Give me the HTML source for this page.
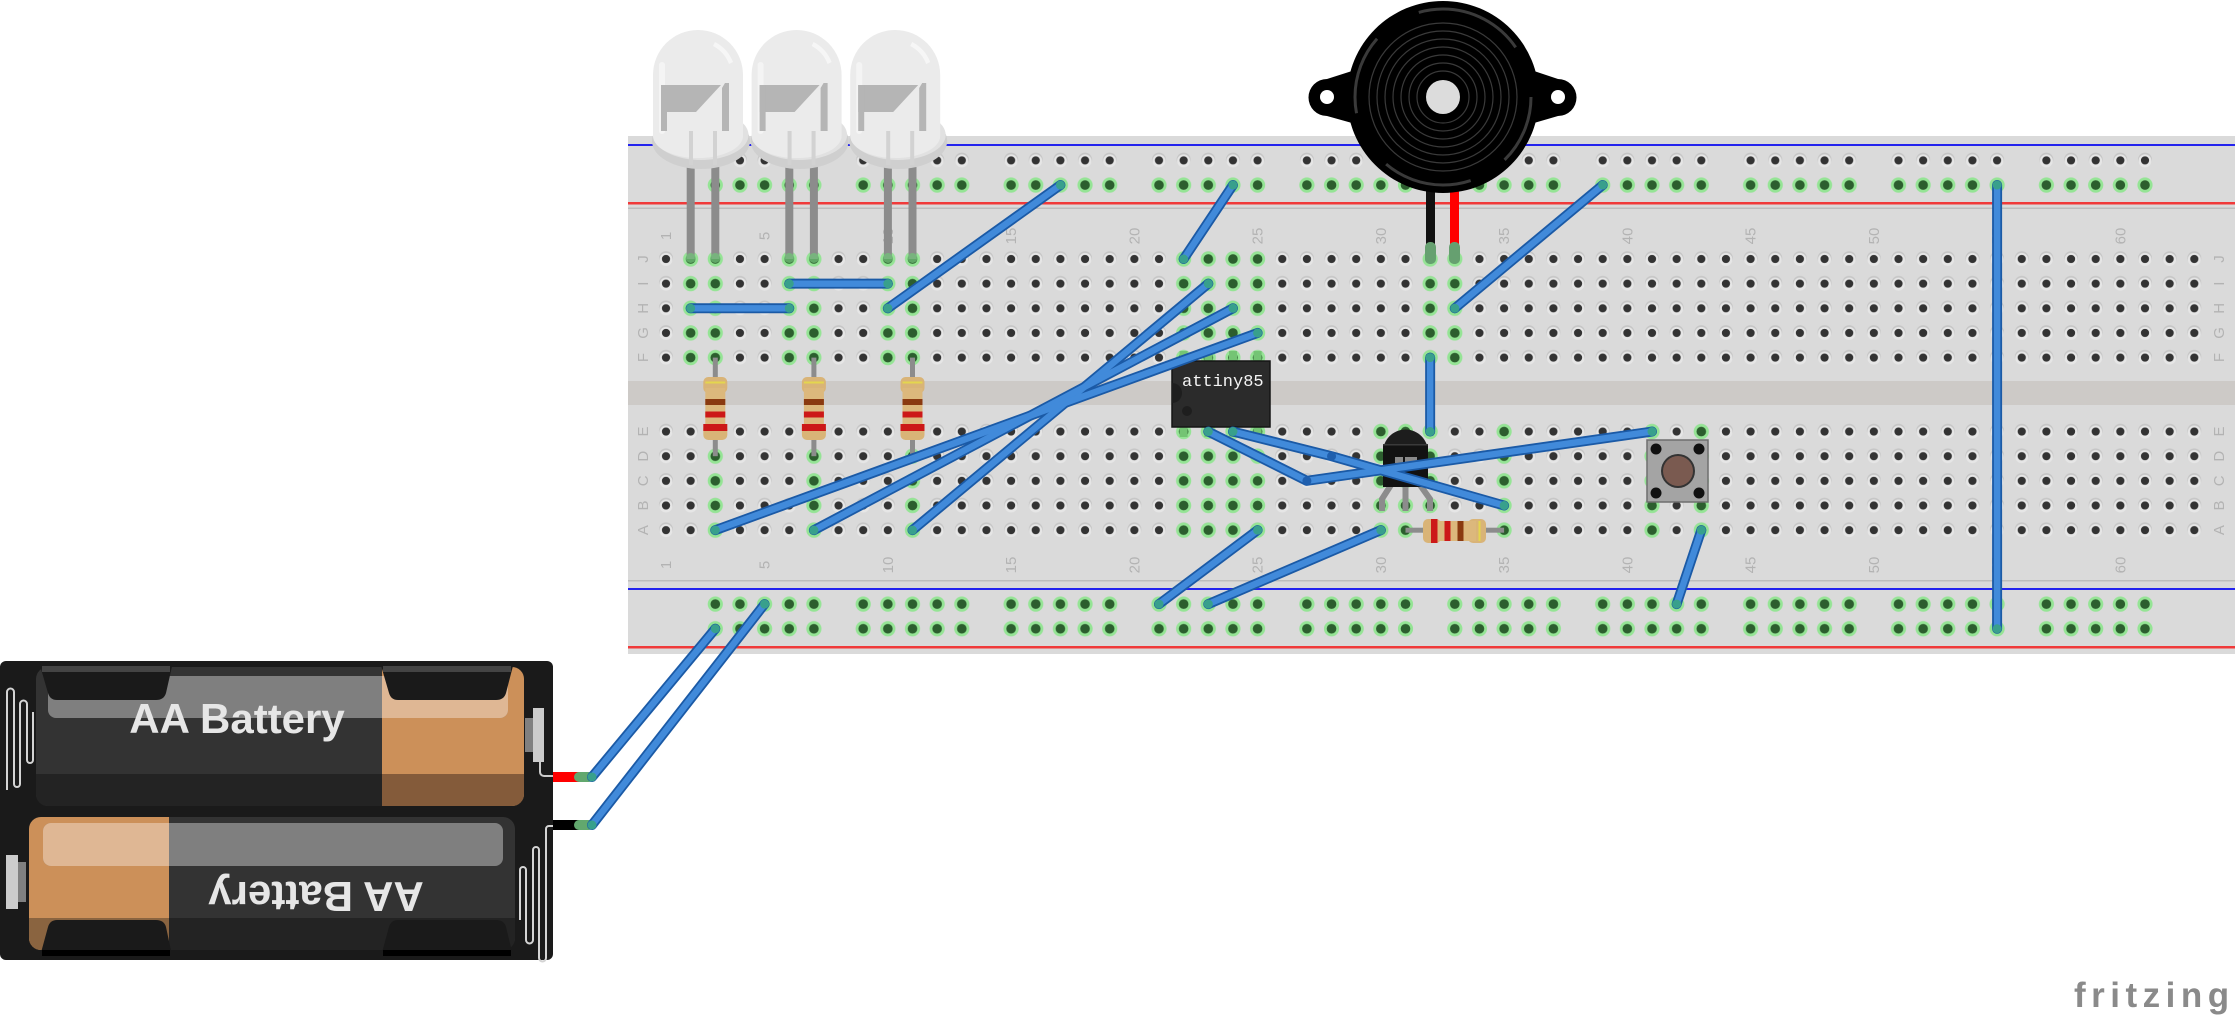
<!DOCTYPE html>
<html><head><meta charset="utf-8"><style>
html,body{margin:0;padding:0;background:#fff;}
body{width:2235px;height:1024px;overflow:hidden;}
svg{display:block;}
.lbl{font-family:"Liberation Sans",sans-serif;font-size:15px;fill:#b3b3b3;}
.wo{stroke:#1b5aa6;stroke-width:10;fill:none;stroke-linecap:round;stroke-linejoin:round;}
.wi{stroke:#418ada;stroke-width:6.4;fill:none;stroke-linecap:round;stroke-linejoin:round;}
.we{fill:#38a08c;}
.lead{fill:#8c8c8c;}
</style></head><body>
<svg width="2235" height="1024" viewBox="0 0 2235 1024" xmlns="http://www.w3.org/2000/svg">
<defs>
<pattern id="ph" x="653.675" y="246.675" width="24.65" height="24.65" patternUnits="userSpaceOnUse">
<circle cx="12.325" cy="11.5" r="7" fill="#c6c6c6"/>
<circle cx="12.325" cy="12.8" r="6.5" fill="#e6e6e6"/>
<circle cx="12.325" cy="12.325" r="4.1" fill="#333"/>
</pattern>
<pattern id="pg" x="653.675" y="246.675" width="24.65" height="24.65" patternUnits="userSpaceOnUse">
<circle cx="12.325" cy="12.325" r="7.6" fill="#95e495"/>
<circle cx="12.325" cy="12.325" r="4.8" fill="#2c5e2e"/>
</pattern>
<pattern id="prd" x="702.975" y="246.675" width="147.9" height="24.65" patternUnits="userSpaceOnUse">
<g fill="#c6c6c6"><circle cx="12.325" cy="11.5" r="7"/><circle cx="36.975" cy="11.5" r="7"/><circle cx="61.625" cy="11.5" r="7"/><circle cx="86.275" cy="11.5" r="7"/><circle cx="110.925" cy="11.5" r="7"/></g>
<g fill="#e6e6e6"><circle cx="12.325" cy="12.8" r="6.5"/><circle cx="36.975" cy="12.8" r="6.5"/><circle cx="61.625" cy="12.8" r="6.5"/><circle cx="86.275" cy="12.8" r="6.5"/><circle cx="110.925" cy="12.8" r="6.5"/></g>
<g fill="#333"><circle cx="12.325" cy="12.325" r="4.1"/><circle cx="36.975" cy="12.325" r="4.1"/><circle cx="61.625" cy="12.325" r="4.1"/><circle cx="86.275" cy="12.325" r="4.1"/><circle cx="110.925" cy="12.325" r="4.1"/></g>
</pattern>
<pattern id="prg" x="702.975" y="246.675" width="147.9" height="24.65" patternUnits="userSpaceOnUse">
<g fill="#95e495"><circle cx="12.325" cy="12.325" r="7.6"/><circle cx="36.975" cy="12.325" r="7.6"/><circle cx="61.625" cy="12.325" r="7.6"/><circle cx="86.275" cy="12.325" r="7.6"/><circle cx="110.925" cy="12.325" r="7.6"/></g>
<g fill="#2c5e2e"><circle cx="12.325" cy="12.325" r="4.8"/><circle cx="36.975" cy="12.325" r="4.8"/><circle cx="61.625" cy="12.325" r="4.8"/><circle cx="86.275" cy="12.325" r="4.8"/><circle cx="110.925" cy="12.325" r="4.8"/></g>
</pattern>
<clipPath id="cb1"><rect x="36" y="667" width="488" height="139" rx="12"/></clipPath>
<clipPath id="cb2"><rect x="29" y="817" width="486" height="133" rx="12"/></clipPath>
</defs>

<!-- ===== Breadboard ===== -->
<rect x="628" y="136" width="1607" height="518" fill="#dadada"/>
<rect x="628" y="381" width="1607" height="24" fill="#cdcac7"/>
<rect x="628" y="144" width="1607" height="2" fill="#2323ee"/>
<rect x="628" y="202" width="1607" height="2.5" fill="#f03a3a"/>
<rect x="628" y="207.5" width="1607" height="1.5" fill="#bdbdbd"/>
<rect x="628" y="580" width="1607" height="1.5" fill="#bdbdbd"/>
<rect x="628" y="588" width="1607" height="2" fill="#2323ee"/>
<rect x="628" y="646" width="1607" height="2.5" fill="#f03a3a"/>

<!-- holes main grid -->
<rect x="653.675" y="246.675" width="1552.95" height="123.25" fill="url(#ph)"/>
<rect x="653.675" y="419.225" width="1552.95" height="123.25" fill="url(#ph)"/>
<!-- rails -->
<rect x="702.975" y="148.075" width="1479" height="24.65" fill="url(#prd)"/>
<rect x="702.975" y="172.725" width="1479" height="24.65" fill="url(#prg)"/>
<rect x="702.975" y="591.775" width="1479" height="49.3" fill="url(#prg)"/>
<!-- green columns top -->
<rect x="678.325" y="246.675" width="49.3" height="123.25" fill="url(#pg)"/>
<rect x="776.925" y="246.675" width="49.3" height="123.25" fill="url(#pg)"/>
<rect x="875.525" y="246.675" width="49.3" height="123.25" fill="url(#pg)"/>
<rect x="1171.325" y="246.675" width="98.6" height="123.25" fill="url(#pg)"/>
<rect x="1417.825" y="246.675" width="49.3" height="123.25" fill="url(#pg)"/>
<!-- green columns bottom -->
<rect x="702.975" y="419.225" width="24.65" height="123.25" fill="url(#pg)"/>
<rect x="801.575" y="419.225" width="24.65" height="123.25" fill="url(#pg)"/>
<rect x="900.175" y="419.225" width="24.65" height="123.25" fill="url(#pg)"/>
<rect x="1171.325" y="419.225" width="98.6" height="123.25" fill="url(#pg)"/>
<rect x="1368.525" y="419.225" width="73.95" height="123.25" fill="url(#pg)"/>
<rect x="1491.775" y="419.225" width="24.65" height="123.25" fill="url(#pg)"/>
<rect x="1639.675" y="419.225" width="24.65" height="123.25" fill="url(#pg)"/>
<rect x="1688.975" y="419.225" width="24.65" height="123.25" fill="url(#pg)"/>

<!-- column labels -->
<g class="lbl" text-anchor="middle">
<text transform="translate(666,236) rotate(-90)" dy="5">1</text>
<text transform="translate(764.6,236) rotate(-90)" dy="5">5</text>
<text transform="translate(887.85,236) rotate(-90)" dy="5">10</text>
<text transform="translate(1011.1,236) rotate(-90)" dy="5">15</text>
<text transform="translate(1134.35,236) rotate(-90)" dy="5">20</text>
<text transform="translate(1257.6,236) rotate(-90)" dy="5">25</text>
<text transform="translate(1380.85,236) rotate(-90)" dy="5">30</text>
<text transform="translate(1504.1,236) rotate(-90)" dy="5">35</text>
<text transform="translate(1627.35,236) rotate(-90)" dy="5">40</text>
<text transform="translate(1750.6,236) rotate(-90)" dy="5">45</text>
<text transform="translate(1873.85,236) rotate(-90)" dy="5">50</text>
<text transform="translate(1997.1,236) rotate(-90)" dy="5">55</text>
<text transform="translate(2120.35,236) rotate(-90)" dy="5">60</text>
<text transform="translate(666,565) rotate(-90)" dy="5">1</text>
<text transform="translate(764.6,565) rotate(-90)" dy="5">5</text>
<text transform="translate(887.85,565) rotate(-90)" dy="5">10</text>
<text transform="translate(1011.1,565) rotate(-90)" dy="5">15</text>
<text transform="translate(1134.35,565) rotate(-90)" dy="5">20</text>
<text transform="translate(1257.6,565) rotate(-90)" dy="5">25</text>
<text transform="translate(1380.85,565) rotate(-90)" dy="5">30</text>
<text transform="translate(1504.1,565) rotate(-90)" dy="5">35</text>
<text transform="translate(1627.35,565) rotate(-90)" dy="5">40</text>
<text transform="translate(1750.6,565) rotate(-90)" dy="5">45</text>
<text transform="translate(1873.85,565) rotate(-90)" dy="5">50</text>
<text transform="translate(1997.1,565) rotate(-90)" dy="5">55</text>
<text transform="translate(2120.35,565) rotate(-90)" dy="5">60</text>
<text transform="translate(643,259) rotate(-90)" dy="5">J</text>
<text transform="translate(643,283.65) rotate(-90)" dy="5">I</text>
<text transform="translate(643,308.3) rotate(-90)" dy="5">H</text>
<text transform="translate(643,332.95) rotate(-90)" dy="5">G</text>
<text transform="translate(643,357.6) rotate(-90)" dy="5">F</text>
<text transform="translate(643,431.55) rotate(-90)" dy="5">E</text>
<text transform="translate(643,456.2) rotate(-90)" dy="5">D</text>
<text transform="translate(643,480.85) rotate(-90)" dy="5">C</text>
<text transform="translate(643,505.5) rotate(-90)" dy="5">B</text>
<text transform="translate(643,530.15) rotate(-90)" dy="5">A</text>
<text transform="translate(2219,259) rotate(-90)" dy="5">J</text>
<text transform="translate(2219,283.65) rotate(-90)" dy="5">I</text>
<text transform="translate(2219,308.3) rotate(-90)" dy="5">H</text>
<text transform="translate(2219,332.95) rotate(-90)" dy="5">G</text>
<text transform="translate(2219,357.6) rotate(-90)" dy="5">F</text>
<text transform="translate(2219,431.55) rotate(-90)" dy="5">E</text>
<text transform="translate(2219,456.2) rotate(-90)" dy="5">D</text>
<text transform="translate(2219,480.85) rotate(-90)" dy="5">C</text>
<text transform="translate(2219,505.5) rotate(-90)" dy="5">B</text>
<text transform="translate(2219,530.15) rotate(-90)" dy="5">A</text>
</g>

<!-- ===== Vertical resistors ===== -->
<g>
<rect x="712.8" y="357.6" width="5" height="98.6" class="lead"/>
<rect x="811.4" y="357.6" width="5" height="98.6" class="lead"/>
<rect x="910" y="357.6" width="5" height="98.6" class="lead"/>
</g>
<g transform="translate(715.3,0)">
<rect x="-12" y="377" width="24" height="16" rx="5" fill="#d9b477"/>
<rect x="-12" y="424" width="24" height="16" rx="5" fill="#d9b477"/>
<rect x="-10" y="388" width="20" height="40" fill="#dcb87c"/>
<rect x="-10" y="381.5" width="20" height="2" fill="#e4d64e"/>
<rect x="-10" y="399" width="20" height="6" fill="#8a3a10"/>
<rect x="-10" y="411.5" width="20" height="6" fill="#cc1818"/>
<rect x="-12" y="424" width="24" height="7" fill="#cc1818"/>
</g>
<g transform="translate(813.9,0)">
<rect x="-12" y="377" width="24" height="16" rx="5" fill="#d9b477"/>
<rect x="-12" y="424" width="24" height="16" rx="5" fill="#d9b477"/>
<rect x="-10" y="388" width="20" height="40" fill="#dcb87c"/>
<rect x="-10" y="381.5" width="20" height="2" fill="#e4d64e"/>
<rect x="-10" y="399" width="20" height="6" fill="#8a3a10"/>
<rect x="-10" y="411.5" width="20" height="6" fill="#cc1818"/>
<rect x="-12" y="424" width="24" height="7" fill="#cc1818"/>
</g>
<g transform="translate(912.5,0)">
<rect x="-12" y="377" width="24" height="16" rx="5" fill="#d9b477"/>
<rect x="-12" y="424" width="24" height="16" rx="5" fill="#d9b477"/>
<rect x="-10" y="388" width="20" height="40" fill="#dcb87c"/>
<rect x="-10" y="381.5" width="20" height="2" fill="#e4d64e"/>
<rect x="-10" y="399" width="20" height="6" fill="#8a3a10"/>
<rect x="-10" y="411.5" width="20" height="6" fill="#cc1818"/>
<rect x="-12" y="424" width="24" height="7" fill="#cc1818"/>
</g>

<!-- ===== LEDs ===== -->
<g transform="translate(703,0)">
<rect x="-16.3" y="150" width="8" height="109" class="lead"/>
<rect x="8.3" y="150" width="8" height="109" class="lead"/>
<circle cx="-12.3" cy="258" r="5" fill="#72c07a" opacity="0.75"/>
<circle cx="12.3" cy="258" r="5" fill="#72c07a" opacity="0.75"/>
<ellipse cx="-2" cy="141" rx="49" ry="28" fill="#cfcfcf"/>
<ellipse cx="-2" cy="135" rx="47.5" ry="25" fill="#e1e1e1"/>
<path d="M-50,136 V75 A45,45 0 0 1 40,75 V136 A45,22 0 0 1 -50,136 Z" fill="#ebebeb"/>
<rect x="-44" y="62" width="6" height="72" rx="3" fill="#f4f4f4"/>
<path d="M12,42 A38,38 0 0 1 30,62 L26,64 A34,34 0 0 0 10,46 Z" fill="#f6f6f6"/>
<path d="M-42,85 H18 L-7,112 H-42 Z" fill="#b5b5b5"/>
<rect x="-42" y="85" width="6" height="46" fill="#b5b5b5"/>
<path d="M22,83 H26 V131 H19 V88 Z" fill="#b5b5b5"/>
<rect x="-14" y="131" width="4" height="34" fill="#d2d2d2"/>
<rect x="10" y="131" width="4" height="34" fill="#d2d2d2"/>
</g>
<g transform="translate(801.6,0)">
<rect x="-16.3" y="150" width="8" height="109" class="lead"/>
<rect x="8.3" y="150" width="8" height="109" class="lead"/>
<circle cx="-12.3" cy="258" r="5" fill="#72c07a" opacity="0.75"/>
<circle cx="12.3" cy="258" r="5" fill="#72c07a" opacity="0.75"/>
<ellipse cx="-2" cy="141" rx="49" ry="28" fill="#cfcfcf"/>
<ellipse cx="-2" cy="135" rx="47.5" ry="25" fill="#e1e1e1"/>
<path d="M-50,136 V75 A45,45 0 0 1 40,75 V136 A45,22 0 0 1 -50,136 Z" fill="#ebebeb"/>
<rect x="-44" y="62" width="6" height="72" rx="3" fill="#f4f4f4"/>
<path d="M12,42 A38,38 0 0 1 30,62 L26,64 A34,34 0 0 0 10,46 Z" fill="#f6f6f6"/>
<path d="M-42,85 H18 L-7,112 H-42 Z" fill="#b5b5b5"/>
<rect x="-42" y="85" width="6" height="46" fill="#b5b5b5"/>
<path d="M22,83 H26 V131 H19 V88 Z" fill="#b5b5b5"/>
<rect x="-14" y="131" width="4" height="34" fill="#d2d2d2"/>
<rect x="10" y="131" width="4" height="34" fill="#d2d2d2"/>
</g>
<g transform="translate(900.2,0)">
<rect x="-16.3" y="150" width="8" height="109" class="lead"/>
<rect x="8.3" y="150" width="8" height="109" class="lead"/>
<circle cx="-12.3" cy="258" r="5" fill="#72c07a" opacity="0.75"/>
<circle cx="12.3" cy="258" r="5" fill="#72c07a" opacity="0.75"/>
<ellipse cx="-2" cy="141" rx="49" ry="28" fill="#cfcfcf"/>
<ellipse cx="-2" cy="135" rx="47.5" ry="25" fill="#e1e1e1"/>
<path d="M-50,136 V75 A45,45 0 0 1 40,75 V136 A45,22 0 0 1 -50,136 Z" fill="#ebebeb"/>
<rect x="-44" y="62" width="6" height="72" rx="3" fill="#f4f4f4"/>
<path d="M12,42 A38,38 0 0 1 30,62 L26,64 A34,34 0 0 0 10,46 Z" fill="#f6f6f6"/>
<path d="M-42,85 H18 L-7,112 H-42 Z" fill="#b5b5b5"/>
<rect x="-42" y="85" width="6" height="46" fill="#b5b5b5"/>
<path d="M22,83 H26 V131 H19 V88 Z" fill="#b5b5b5"/>
<rect x="-14" y="131" width="4" height="34" fill="#d2d2d2"/>
<rect x="10" y="131" width="4" height="34" fill="#d2d2d2"/>
</g>

<!-- ===== ATtiny85 ===== -->
<g fill="#74c474">
<rect x="1179.6" y="351" width="8" height="12"/><rect x="1204.3" y="351" width="8" height="12"/><rect x="1229" y="351" width="8" height="12"/><rect x="1253.6" y="351" width="8" height="12"/>
<rect x="1179.6" y="425" width="8" height="12"/><rect x="1204.3" y="425" width="8" height="12"/><rect x="1229" y="425" width="8" height="12"/><rect x="1253.6" y="425" width="8" height="12"/>
</g>
<rect x="1172" y="361" width="98" height="66" fill="#2b2b2b" stroke="#151515" stroke-width="1.5"/>
<path d="M1172,383 A10,10 0 0 1 1172,403 Z" fill="#1e1e1e"/>
<circle cx="1187" cy="411" r="5" fill="#1e1e1e"/>
<text x="1182" y="386" font-family="Liberation Mono, monospace" font-size="17" fill="#f4f4f4">attiny85</text>

<!-- ===== Transistor ===== -->
<g stroke="#8c8c8c" stroke-width="6" fill="none">
<polyline points="1391,485 1382,499 1382,511"/>
<polyline points="1405.5,485 1405.5,511"/>
<polyline points="1420,485 1430,499 1430,511"/>
</g>
<path d="M1383,487 V452 A22.5,22.5 0 0 1 1428,452 V487 Z" fill="#1d1d1d"/>
<rect x="1383" y="445" width="45" height="42" fill="#121212"/>
<rect x="1383" y="444" width="45" height="1.5" fill="#3a3a3a"/>
<rect x="1395" y="457" width="22" height="6" fill="#8a8a8a"/>
<rect x="1403" y="457" width="2" height="6" fill="#121212"/>

<!-- ===== Horizontal resistor ===== -->
<rect x="1405.5" y="527.7" width="98.6" height="5" class="lead"/>
<rect x="1423" y="519" width="18" height="24" rx="5" fill="#d9b477"/>
<rect x="1468" y="519" width="18" height="24" rx="5" fill="#d9b477"/>
<rect x="1433" y="521" width="43" height="20" fill="#dcb87c"/>
<rect x="1431" y="519" width="6.5" height="24" fill="#cc1818"/>
<rect x="1444.5" y="521" width="6" height="20" fill="#cc1818"/>
<rect x="1457.5" y="521" width="6" height="20" fill="#8a3a10"/>
<rect x="1478.5" y="521" width="2" height="20" fill="#e4d64e"/>

<!-- ===== Pushbutton ===== -->
<rect x="1647" y="440" width="61" height="62" fill="#a4a4a4" stroke="#6e6e6e" stroke-width="1.5"/>
<circle cx="1656" cy="449" r="5.5" fill="#111"/>
<circle cx="1699" cy="449" r="5.5" fill="#111"/>
<circle cx="1656" cy="493" r="5.5" fill="#111"/>
<circle cx="1699" cy="493" r="5.5" fill="#111"/>
<circle cx="1678" cy="471" r="17" fill="#333"/>
<circle cx="1678" cy="471" r="15" fill="#7a5a50"/>

<!-- ===== Buzzer ===== -->
<rect x="1426" y="188" width="9" height="70" fill="#111"/>
<rect x="1450" y="188" width="9" height="70" fill="#ff0000"/>
<rect x="1425" y="242" width="11" height="22" rx="5" fill="#66a070"/>
<rect x="1449" y="242" width="11" height="22" rx="5" fill="#66a070"/>
<path d="M1327,79 L1352,71 L1534,71 L1558,79 A18.5,18.5 0 0 1 1558,116 L1534,123 L1352,123 L1327,116 A18.5,18.5 0 0 1 1327,79 Z" fill="#000"/>
<circle cx="1327" cy="97" r="7" fill="#fff"/>
<circle cx="1558" cy="97" r="7" fill="#fff"/>
<circle cx="1443" cy="97" r="96" fill="#000"/>
<circle cx="1443" cy="97" r="88" fill="none" stroke="#3a3a3a" stroke-width="3" stroke-dasharray="70 40 90 60 80 50 110 53"/>
<g fill="none" stroke="#3a3a3a" stroke-width="1.2">
<circle cx="1443" cy="97" r="26"/><circle cx="1443" cy="97" r="34"/><circle cx="1443" cy="97" r="42"/><circle cx="1443" cy="97" r="50"/><circle cx="1443" cy="97" r="58"/><circle cx="1443" cy="97" r="66"/><circle cx="1443" cy="97" r="74"/>
</g>
<circle cx="1443" cy="97" r="17" fill="#dcdcdc"/>

<!-- ===== Battery pack ===== -->
<rect x="0" y="661" width="553" height="299" rx="6" fill="#1a1a1a"/>
<g clip-path="url(#cb1)">
<rect x="36" y="667" width="488" height="139" fill="#333"/>
<rect x="382" y="667" width="142" height="139" fill="#cc9059"/>
<rect x="36" y="774" width="346" height="32" fill="#232323"/>
<rect x="382" y="774" width="142" height="32" fill="#845b3a"/>
<rect x="48" y="676" width="460" height="42" rx="8" fill="#7f7f7f"/>
<rect x="382" y="676" width="126" height="42" rx="8" fill="#dfb794"/>
<rect x="382" y="676" width="20" height="42" fill="#dfb794"/>
</g>
<path d="M39,662 L173,662 L166,693 Q164,700 156,700 L57,700 Q50,700 48,693 Z" fill="#1a1a1a"/>
<path d="M380,662 L514,662 L506,693 Q504,700 496,700 L398,700 Q391,700 389,693 Z" fill="#1a1a1a"/>
<rect x="42" y="666" width="128" height="6" fill="#444"/>
<rect x="383" y="666" width="128" height="6" fill="#444"/>
<text x="237" y="733" text-anchor="middle" font-family="Liberation Sans, sans-serif" font-weight="bold" font-size="42" fill="#e6e6e6">AA Battery</text>

<g clip-path="url(#cb2)">
<rect x="29" y="817" width="486" height="133" fill="#333"/>
<rect x="29" y="817" width="140" height="133" fill="#cc9059"/>
<rect x="169" y="918" width="346" height="32" fill="#232323"/>
<rect x="29" y="918" width="140" height="32" fill="#8a6440"/>
<rect x="43" y="823" width="460" height="43" rx="8" fill="#7f7f7f"/>
<rect x="43" y="823" width="126" height="43" rx="8" fill="#dfb794"/>
<rect x="150" y="823" width="19" height="43" fill="#dfb794"/>
</g>
<path d="M48,927 Q50,920 57,920 L156,920 Q164,920 166,927 L173,960 L39,960 Z" fill="#1a1a1a"/>
<path d="M389,927 Q391,920 398,920 L496,920 Q504,920 506,927 L514,960 L380,960 Z" fill="#1a1a1a"/>
<rect x="42" y="950" width="128" height="6" fill="#000"/>
<rect x="383" y="950" width="128" height="6" fill="#000"/>
<text x="316" y="904" text-anchor="middle" transform="rotate(180 316 893)" font-family="Liberation Sans, sans-serif" font-weight="bold" font-size="42" fill="#e6e6e6">AA Battery</text>

<!-- springs & terminals -->
<path d="M7,790 V692 A3.5,3.5 0 0 1 14,692 V784 A3,3 0 0 0 20,784 V704 A3.5,3.5 0 0 1 27,704 V760 A3,3 0 0 0 33,760 V712" fill="none" stroke="#d4d4d4" stroke-width="2"/>
<path d="M553,826 H549 A3,3 0 0 0 546,829 V958 A3.5,3.5 0 0 1 539,958 V850 A3,3 0 0 0 533,850 V940 A3.5,3.5 0 0 1 526,940 V870 A3,3 0 0 0 520,870 V920" fill="none" stroke="#d4d4d4" stroke-width="2"/>
<rect x="525" y="718" width="8" height="34" fill="#808080"/>
<rect x="533" y="708" width="11" height="54" fill="#cccccc"/>
<path d="M540,762 V772 A4,4 0 0 0 544,776 H553" fill="none" stroke="#cccccc" stroke-width="2"/>
<rect x="18" y="862" width="8" height="40" fill="#808080"/>
<rect x="6" y="855" width="12" height="54" fill="#cccccc"/>
<rect x="553" y="772" width="28" height="10" fill="#ff0000"/>
<rect x="574" y="772" width="20" height="10" rx="5" fill="#62a86e"/>
<rect x="553" y="820" width="26" height="10" fill="#000"/>
<rect x="574" y="820" width="20" height="10" rx="5" fill="#62a86e"/>

<!-- ===== Wires ===== -->
<g class="wo">
<polyline points="690.65,308.3 789.25,308.3"/>
<polyline points="789.25,283.65 887.85,283.65"/>
<polyline points="887.85,308.3 1060.4,185.05"/>
<polyline points="1183.65,259 1232.95,185.05"/>
<polyline points="1208.3,283.65 912.5,530.15"/>
<polyline points="1232.95,308.3 813.9,530.15"/>
<polyline points="1257.6,332.95 715.3,530.15"/>
<polyline points="1208.3,431.55 1306.9,480.85 1652,431.55"/>
<polyline points="1232.95,431.55 1331.55,456.2 1504.1,505.5"/>
<polyline points="1430.15,357.6 1430.15,431.55"/>
<polyline points="1454.8,308.3 1602.7,185.05"/>
<polyline points="1257.6,530.15 1159,604.1"/>
<polyline points="1380.85,530.15 1208.3,604.1"/>
<polyline points="1701.3,530.15 1676.65,604.1"/>
<polyline points="1997.1,185.05 1997.1,628.75"/>
<polyline points="592,777 715.3,628.75"/>
<polyline points="592,825 764.6,604.1"/>
</g>
<g class="wi">
<polyline points="690.65,308.3 789.25,308.3"/>
<polyline points="789.25,283.65 887.85,283.65"/>
<polyline points="887.85,308.3 1060.4,185.05"/>
<polyline points="1183.65,259 1232.95,185.05"/>
<polyline points="1208.3,283.65 912.5,530.15"/>
<polyline points="1232.95,308.3 813.9,530.15"/>
<polyline points="1257.6,332.95 715.3,530.15"/>
<polyline points="1208.3,431.55 1306.9,480.85 1652,431.55"/>
<polyline points="1232.95,431.55 1331.55,456.2 1504.1,505.5"/>
<polyline points="1430.15,357.6 1430.15,431.55"/>
<polyline points="1454.8,308.3 1602.7,185.05"/>
<polyline points="1257.6,530.15 1159,604.1"/>
<polyline points="1380.85,530.15 1208.3,604.1"/>
<polyline points="1701.3,530.15 1676.65,604.1"/>
<polyline points="1997.1,185.05 1997.1,628.75"/>
<polyline points="592,777 715.3,628.75"/>
<polyline points="592,825 764.6,604.1"/>
</g>
<g fill="#1f5fae">
<circle cx="1306.9" cy="480.85" r="4.5"/>
<circle cx="1331.55" cy="456.2" r="4.5"/>
</g>
<g class="we">
<circle cx="690.65" cy="308.3" r="4.5"/><circle cx="789.25" cy="308.3" r="4.5"/>
<circle cx="789.25" cy="283.65" r="4.5"/><circle cx="887.85" cy="283.65" r="4.5"/>
<circle cx="887.85" cy="308.3" r="4.5"/><circle cx="1060.4" cy="185.05" r="4.5"/>
<circle cx="1183.65" cy="259" r="4.5"/><circle cx="1232.95" cy="185.05" r="4.5"/>
<circle cx="1208.3" cy="283.65" r="4.5"/><circle cx="912.5" cy="530.15" r="4.5"/>
<circle cx="1232.95" cy="308.3" r="4.5"/><circle cx="813.9" cy="530.15" r="4.5"/>
<circle cx="1257.6" cy="332.95" r="4.5"/><circle cx="715.3" cy="530.15" r="4.5"/>
<circle cx="1208.3" cy="431.55" r="4.5"/><circle cx="1652" cy="431.55" r="4.5"/>
<circle cx="1232.95" cy="431.55" r="4.5"/><circle cx="1504.1" cy="505.5" r="4.5"/>
<circle cx="1430.15" cy="357.6" r="4.5"/><circle cx="1430.15" cy="431.55" r="4.5"/>
<circle cx="1454.8" cy="308.3" r="4.5"/><circle cx="1602.7" cy="185.05" r="4.5"/>
<circle cx="1257.6" cy="530.15" r="4.5"/><circle cx="1159" cy="604.1" r="4.5"/>
<circle cx="1380.85" cy="530.15" r="4.5"/><circle cx="1208.3" cy="604.1" r="4.5"/>
<circle cx="1701.3" cy="530.15" r="4.5"/><circle cx="1676.65" cy="604.1" r="4.5"/>
<circle cx="1997.1" cy="185.05" r="4.5"/><circle cx="1997.1" cy="628.75" r="4.5"/>
<circle cx="592" cy="777" r="4.5"/><circle cx="715.3" cy="628.75" r="4.5"/>
<circle cx="592" cy="825" r="4.5"/><circle cx="764.6" cy="604.1" r="4.5"/>
</g>

<!-- ===== fritzing logo ===== -->
<text x="2074" y="1007" font-family="Liberation Sans, sans-serif" font-weight="bold" font-size="35" letter-spacing="5.5" fill="#8a8a8a">fritzing</text>
</svg>
</body></html>
